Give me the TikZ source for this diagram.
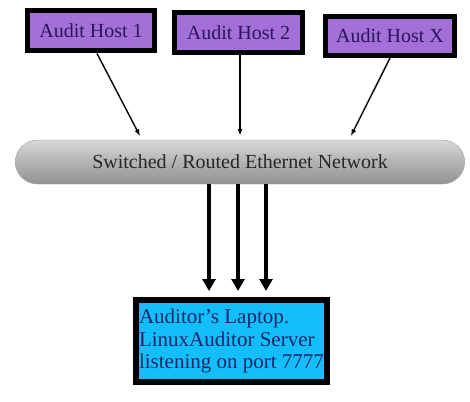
\documentclass[tikz,border=0pt]{standalone}
\usepackage{fontspec}
\setmainfont{Liberation Serif}
\usetikzlibrary{arrows.meta,shapes.misc}
\definecolor{hostfill}{RGB}{163, 112, 216}
\definecolor{hosttext}{RGB}{45, 20, 95}
\definecolor{lapfill}{RGB}{20, 190, 250}
\definecolor{laptext}{RGB}{15, 40, 105}

\begin{document}
\begin{tikzpicture}[%
        x=1pt, y=-1pt,
        basic/.style ={draw, line width=5pt, inner sep=0pt, font=\fontsize{20}{24}\selectfont},
        host/.style={basic, fill=hostfill, text=hosttext, minimum height=40pt},
        laptop/.style={basic, line width=6pt, fill=lapfill, text=laptext, align=left, minimum width=191pt, minimum height=82pt, font=\fontsize{21}{22.5}\selectfont},
        network/.style={rounded rectangle, draw=gray!75, thin, minimum width=456pt, minimum height=44pt, top color=gray!30, bottom color=gray!85, middle color=gray!60, text=black!85, font=\fontsize{20}{24}\selectfont},
        link/.style={-{Latex[length=7pt,width=5pt]}, line width=1.4pt, shorten >=4pt},
        fat/.style={-{Triangle[length=12pt,width=13pt]}, line width=4pt, shorten >=6pt}
        ]
        \useasboundingbox (0,0) rectangle (470,401);
        \node[host, minimum width=127pt] (hone) at (91,31) {Audit Host 1};
        \node[host, minimum width=128pt] (htwo) at (238.5,32.5) {Audit Host 2};
        \node[host, minimum width=129pt, minimum height=39pt] (hx) at (390,36) {Audit Host X};
        \node[network] (net) at (240,162) {Switched / Routed Ethernet Network};
        \node[laptop] (lap) at (231.5,341) {Auditor's Laptop.\\LinuxAuditor Server\\listening on port 7777};
        % hosts to network
        \draw[link] ([xshift=6pt]hone.south) -- ([xshift=-98pt]net.north);
        \draw[link] ([xshift=1.5pt]htwo.south) -- (net.north);
        \draw[link] (hx.south) -- ([xshift=109pt]net.north);
        % network to laptop
        \foreach \dx in {-31,-2,26}
            \draw[fat] ([xshift=\dx pt]net.south) -- ([xshift=\dx pt]net.south |- lap.north);
    \end{tikzpicture}
\end{document}
